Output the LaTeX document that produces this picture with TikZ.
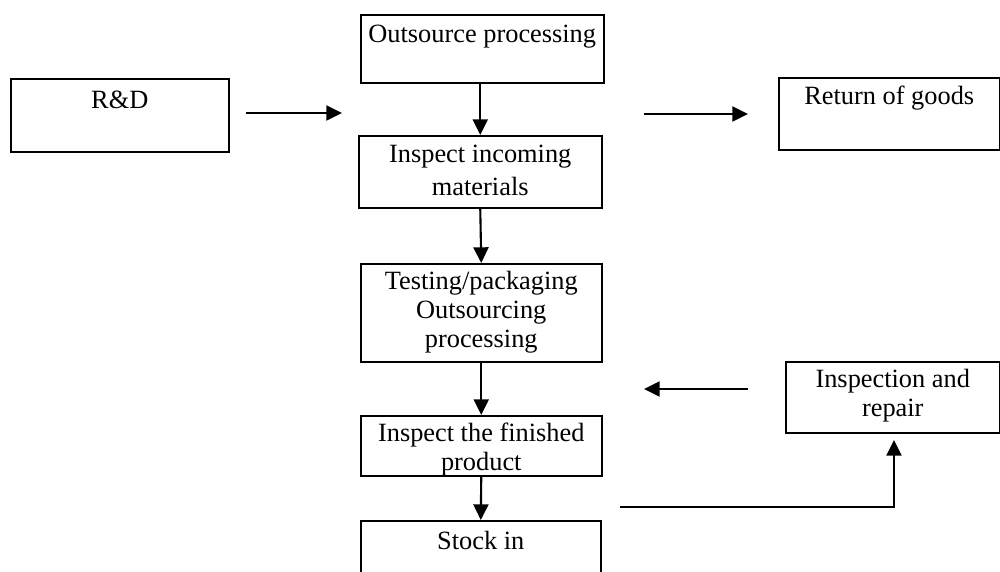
\documentclass[tikz,border=0pt]{standalone}
\usepackage{fontspec}
\setmainfont{Liberation Serif}
\usetikzlibrary{arrows.meta}
\newlength\pxu
\setlength\pxu{0.03cm}
\newcommand{\bx}[4]{\parbox[t][#2\pxu][t]{#1\pxu}{\centering\vspace*{#3\pxu}#4}}
\begin{document}
\begin{tikzpicture}[x=0.03cm,y=-0.03cm,
  font=\fontsize{22.5}{25}\selectfont,
  box/.style={draw, line width=1.3pt, inner sep=0pt, anchor=north west},
  arr/.style={line width=1.8pt, -{Triangle[length=0.47cm,width=0.45cm]}}]
\useasboundingbox (0,0) rectangle (1000,572);
\clip (0,0) rectangle (1000,572);
% boxes
\node[box] (rd)    at (10,78)   {\bx{218}{73}{12}{R\&D}};
\node[box] (out)   at (360,14)  {\bx{243}{68}{10}{Outsource processing}};
\node[box] (inc)   at (358,135) {\bx{243}{72}{9}{Inspect incoming\\[3pt]materials}};
\node[box] (test)  at (360,263) {\bx{241}{98}{7}{Testing/packaging\\Outsourcing\\processing}};
\node[box] (fin)   at (360,415) {\bx{241}{60}{7}{Inspect the finished\\product}};
\node[box] (stock) at (360,520) {\bx{240}{70}{10}{Stock in}};
\node[box] (ret)   at (778,77)  {\bx{221}{72}{8}{Return of goods}};
\node[box] (insp)  at (785,361) {\bx{214}{71}{7}{Inspection and\\repair}};
% free arrow ends
\coordinate (a1s) at (246,113);
\coordinate (a1e) at (342,113);
\coordinate (a2s) at (644,114);
\coordinate (a2e) at (748,114);
\coordinate (a3s) at (748,389);
\coordinate (a3e) at (644,389);
\coordinate (a4s) at (620,507);
\coordinate (a4e) at (894,440);
% connectors
\draw[arr] (a1s) -- (a1e);
\draw[arr] (a2s) -- (a2e);
\draw[arr] (a3s) -- (a3e);
\draw[arr] (a4s) -| (a4e);
\draw[arr] (out.south -| inc.north) -- (inc.north);
\draw[arr] (inc.south) -- (test.north);
\draw[arr] (test.south) -- (fin.north);
\draw[arr] (fin.south) -- (stock.north);
\end{tikzpicture}
\end{document}
